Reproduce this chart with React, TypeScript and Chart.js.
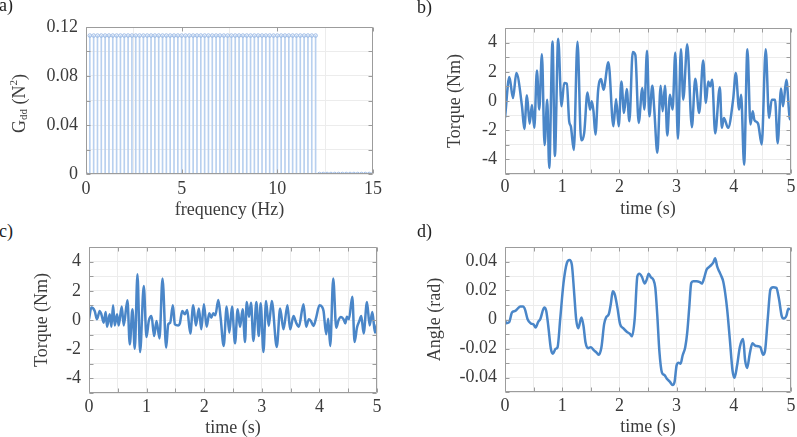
import React, { useEffect, useRef } from 'react';
import { Chart, registerables } from 'chart.js';

Chart.register(...registerables);

const FONT = '"Liberation Serif", "Times New Roman", serif';
const TEXT = '#3c3c3c';
const GRID = '#ececec';
const BOX = '#9c9c9c';
const LINE = '#4a86c8';
const STEM = '#b8d0ef';
const MARK = '#9dbbe6';

// ---------- a) power spectrum ----------
const freqHz = [
  0, 0.2, 0.4, 0.6, 0.8, 1, 1.2, 1.4, 1.6, 1.8,
  2, 2.2, 2.4, 2.6, 2.8, 3, 3.2, 3.4, 3.6, 3.8,
  4, 4.2, 4.4, 4.6, 4.8, 5, 5.2, 5.4, 5.6, 5.8,
  6, 6.2, 6.4, 6.6, 6.8, 7, 7.2, 7.4, 7.6, 7.8,
  8, 8.2, 8.4, 8.6, 8.8, 9, 9.2, 9.4, 9.6, 9.8,
  10, 10.2, 10.4, 10.6, 10.8, 11, 11.2, 11.4, 11.6, 11.8,
  12, 12.2, 12.4, 12.6, 12.8, 13, 13.2, 13.4, 13.6, 13.8,
  14, 14.2, 14.4, 14.6, 14.8, 15,
];
const gddValues = [
  0, 0.113, 0.113, 0.113, 0.113, 0.113, 0.113, 0.113, 0.113, 0.113,
  0.113, 0.113, 0.113, 0.113, 0.113, 0.113, 0.113, 0.113, 0.113, 0.113,
  0.113, 0.113, 0.113, 0.113, 0.113, 0.113, 0.113, 0.113, 0.113, 0.113,
  0.113, 0.113, 0.113, 0.113, 0.113, 0.113, 0.113, 0.113, 0.113, 0.113,
  0.113, 0.113, 0.113, 0.113, 0.113, 0.113, 0.113, 0.113, 0.113, 0.113,
  0.113, 0.113, 0.113, 0.113, 0.113, 0.113, 0.113, 0.113, 0.113, 0.113,
  0.113, 0, 0, 0, 0, 0, 0, 0, 0, 0,
  0, 0, 0, 0, 0, 0,
];

// ---------- b) input torque ----------
const bTime = [
  0, 0.076, 0.14, 0.198, 0.297, 0.337, 0.384, 0.43, 0.471, 0.512,
  0.558, 0.599, 0.645, 0.692, 0.738, 0.773, 0.831, 0.872, 0.93, 0.988,
  1.035, 1.081, 1.122, 1.151, 1.203, 1.267, 1.331, 1.384, 1.442, 1.488,
  1.517, 1.547, 1.581, 1.628, 1.68, 1.721, 1.808, 1.895, 1.942, 1.988,
  2.035, 2.081, 2.128, 2.174, 2.233, 2.279, 2.337, 2.401, 2.436, 2.483,
  2.523, 2.576, 2.61, 2.663, 2.721, 2.756, 2.797, 2.837, 2.884, 2.93,
  2.977, 3.023, 3.076, 3.116, 3.186, 3.267, 3.326, 3.395, 3.465, 3.512,
  3.552, 3.587, 3.622, 3.674, 3.756, 3.791, 3.826, 3.901, 3.988, 4.035,
  4.093, 4.128, 4.18, 4.238, 4.291, 4.331, 4.36, 4.424, 4.488, 4.558,
  4.616, 4.663, 4.721, 4.767, 4.826, 4.86, 4.919, 4.977, 5.0,
];
const bTorque = [
  -1.16, 1.64, 0.2, 1.91, -0.36, -1.91, 0.39, -1.55, -0.27, -1.84,
  2.09, -0.59, 3.2, -3.02, 0.09, -4.59, 4.07, -3.77, 4.27, -0.36,
  1.23, 1.18, -1.39, -1.73, -3.36, 4.05, -2.68, -2.2, 0.59, -0.59,
  -0.02, -0.7, -2.3, 0.73, 1.5, 0.77, 2.66, -1.73, 0.14, -1.73,
  1.34, -0.82, 0.82, -1.39, 3.36, 3.14, -1.5, 0.89, -0.59, 3.45,
  -1.05, 1.05, -0.59, -3.55, 1.05, -0.7, 1.05, -2.36, 0.43, -0.59,
  3.32, -2.59, 3.55, 0.09, 3.89, -1.8, 1.52, -0.82, 2.77, -0.14,
  1.34, 1.0, 1.45, -2.22, 0.95, -1.84, -1.16, -1.84, 0.09, 1.91,
  -0.59, 0.43, -4.36, 3.55, -1.61, -0.7, -1.3, -1.55, -2.98, 3.55,
  -1.16, 0.09, 0.09, -2.89, 0.86, -0.36, 1.45, -1.16, -1.3,
];

// ---------- c) output torque ----------
const cTime = [
  0, 0.041, 0.099, 0.139, 0.186, 0.215, 0.255, 0.29, 0.313, 0.36,
  0.389, 0.418, 0.447, 0.487, 0.516, 0.568, 0.603, 0.667, 0.708, 0.754,
  0.795, 0.841, 0.887, 0.951, 0.998, 1.038, 1.085, 1.131, 1.172, 1.224,
  1.276, 1.34, 1.375, 1.41, 1.456, 1.491, 1.549, 1.578, 1.618, 1.665,
  1.705, 1.758, 1.81, 1.856, 1.908, 1.949, 1.995, 2.042, 2.088, 2.123,
  2.158, 2.193, 2.245, 2.285, 2.338, 2.39, 2.436, 2.483, 2.535, 2.581,
  2.622, 2.668, 2.709, 2.738, 2.778, 2.813, 2.854, 2.906, 2.947, 2.981,
  3.028, 3.074, 3.121, 3.173, 3.26, 3.318, 3.376, 3.445, 3.492, 3.55,
  3.596, 3.643, 3.724, 3.77, 3.817, 3.852, 3.898, 3.944, 4.002, 4.043,
  4.072, 4.118, 4.153, 4.188, 4.24, 4.292, 4.333, 4.374, 4.42, 4.449,
  4.478, 4.513, 4.571, 4.611, 4.652, 4.693, 4.727, 4.768, 4.826, 4.872,
  4.919, 4.965, 5.0,
];
const cTorque = [
  0.05, 0.85, 0.62, 0.05, 0.62, 0.39, -0.18, 0.55, -0.46, 0.39,
  -0.46, 1.01, -0.37, 0.39, -0.37, 0.92, -0.37, 1.35, -1.67, 0.73,
  -1.97, 3.13, -2.2, 2.33, -1.17, -0.07, 0.27, -1.1, -0.07, -1.26,
  2.84, -1.9, -0.3, -0.18, 1.01, -0.3, -0.37, -0.23, 0.62, 0.39,
  0.69, -0.92, 1.01, -0.37, 0.78, -0.64, 1.08, -0.46, 0.46, 0.16,
  0.46, 0.32, 1.37, 0.16, -1.78, 0.92, -0.87, 0.92, -1.6, 0.73,
  -0.46, 0.73, -1.51, 1.24, 0.23, 1.19, -1.44, 1.24, -1.1, 1.14,
  -2.2, 1.3, -0.41, 1.3, -1.85, 0.78, -0.64, 1.01, -0.64, 0.27,
  -0.18, -0.46, 1.08, -0.46, 0.05, -0.07, -0.41, 0.16, 1.01, 0.92,
  0.62, -0.98, 0.09, -1.78, 2.84, -0.53, 0, 0.21, 0.05, -0.23,
  0.23, 0.05, 1.6, -1.51, -0.53, -0.07, 0.27, -0.92, 1.24, -0.37,
  0.55, -0.87, -0.3,
];

// ---------- d) angle ----------
const dTime = [
  0, 0.023, 0.07, 0.122, 0.18, 0.221, 0.267, 0.314, 0.349, 0.395,
  0.453, 0.5, 0.535, 0.581, 0.616, 0.686, 0.721, 0.756, 0.802, 0.837,
  0.884, 0.919, 0.965, 1.023, 1.081, 1.128, 1.169, 1.209, 1.244, 1.279,
  1.337, 1.372, 1.407, 1.453, 1.5, 1.547, 1.605, 1.64, 1.686, 1.733,
  1.767, 1.814, 1.849, 1.884, 1.919, 1.965, 2.012, 2.07, 2.128, 2.186,
  2.221, 2.267, 2.314, 2.349, 2.395, 2.442, 2.477, 2.512, 2.547, 2.593,
  2.628, 2.663, 2.698, 2.744, 2.791, 2.826, 2.884, 2.93, 2.965, 3.0,
  3.035, 3.07, 3.105, 3.151, 3.186, 3.221, 3.256, 3.291, 3.349, 3.407,
  3.442, 3.477, 3.523, 3.581, 3.64, 3.674, 3.709, 3.744, 3.779, 3.814,
  3.849, 3.884, 3.93, 3.977, 4.012, 4.058, 4.105, 4.163, 4.198, 4.233,
  4.279, 4.326, 4.372, 4.419, 4.465, 4.512, 4.547, 4.593, 4.64, 4.686,
  4.744, 4.791, 4.837, 4.872, 4.919, 4.953, 5.0,
];
const dAngle = [
  -0.0005, -0.0025, -0.002, 0.0048, 0.0059, 0.0075, 0.0089, 0.0089, 0.007, 0.0002,
  -0.0027, -0.0034, -0.0055, -0.0016, 0.0002, 0.0082, 0.0059, -0.0043, -0.0202, -0.0236,
  -0.0202, -0.0191, 0.0002, 0.0252, 0.0389, 0.0411, 0.0377, 0.0184, 0.0002, -0.0061,
  0.0014, -0.0043, -0.0157, -0.0198, -0.0191, -0.0209, -0.023, -0.0243, -0.0191, -0.0032,
  0.0014, 0.0036, 0.0105, 0.0195, 0.0173, 0.0082, -0.0032, -0.0061, -0.0084, -0.01,
  -0.0116, 0.0002, 0.0298, 0.0316, 0.0293, 0.0248, 0.0275, 0.0316, 0.0293, 0.0275,
  0.0218, 0.0025, -0.0214, -0.0366, -0.0384, -0.0407, -0.043, -0.0452, -0.043, -0.0316,
  -0.0298, -0.0305, -0.0248, -0.0191, -0.0089, 0.0082, 0.0252, 0.0264, 0.0264, 0.0257,
  0.0248, 0.028, 0.0343, 0.0366, 0.0393, 0.0423, 0.0366, 0.0332, 0.0302, 0.0264,
  0.0184, 0.007, -0.0134, -0.035, -0.0402, -0.0316, -0.0191, -0.0134, -0.0282, -0.0334,
  -0.0236, -0.0164, -0.018, -0.0184, -0.0191, -0.0243, -0.0214, 0.0002, 0.0207, 0.0223,
  0.0218, 0.0139, 0.0025, 0.0007, 0.0025, 0.0075, 0.007,
];

const panelLetters = ['a)', 'b)', 'c)', 'd)'];

// ---------- plugins ----------
const boxPlugin = {
  id: 'matlabBox',
  afterDraw(chart: any) {
    const { ctx, chartArea: a, scales } = chart;
    const L = Math.round(a.left) + 0.5;
    const R = Math.round(a.right) - 0.5;
    const T = Math.round(a.top) + 0.5;
    const B = Math.round(a.bottom) - 0.5;
    ctx.save();
    ctx.strokeStyle = BOX;
    ctx.lineWidth = 1;
    ctx.beginPath();
    ctx.rect(L, T, R - L, B - T);
    const len = 4;
    const xs = scales.x;
    const ys = scales.y;
    xs.ticks.forEach((t: any) => {
      const p = Math.round(xs.getPixelForValue(t.value)) + 0.5;
      ctx.moveTo(p, B);
      ctx.lineTo(p, B - len);
      ctx.moveTo(p, T);
      ctx.lineTo(p, T + len);
    });
    ys.ticks.forEach((t: any) => {
      const p = Math.round(ys.getPixelForValue(t.value)) + 0.5;
      ctx.moveTo(L, p);
      ctx.lineTo(L + len, p);
      ctx.moveTo(R, p);
      ctx.lineTo(R - len, p);
    });
    ctx.stroke();
    ctx.restore();
  },
};

const gddTitlePlugin = {
  id: 'gddTitle',
  afterDraw(chart: any) {
    const { ctx, chartArea } = chart;
    const cx = 14;
    const cy = (chartArea.top + chartArea.bottom) / 2 + 3;
    ctx.save();
    ctx.translate(cx, cy);
    ctx.rotate(-Math.PI / 2);
    ctx.fillStyle = TEXT;
    ctx.textBaseline = 'middle';
    ctx.textAlign = 'left';
    const big = `18px ${FONT}`;
    const small = `11px ${FONT}`;
    const parts = [
      { t: 'G', f: big, dy: 0 },
      { t: 'dd', f: small, dy: 4 },
      { t: ' (N', f: big, dy: 0 },
      { t: '2', f: small, dy: -6 },
      { t: ')', f: big, dy: 0 },
    ];
    let total = 0;
    parts.forEach((p) => {
      ctx.font = p.f;
      total += ctx.measureText(p.t).width;
    });
    let x = -total / 2;
    parts.forEach((p) => {
      ctx.font = p.f;
      ctx.fillText(p.t, x, p.dy);
      x += ctx.measureText(p.t).width;
    });
    ctx.restore();
  },
};

// ---------- option builder ----------
type AxisSpec = {
  xMin: number; xMax: number; xStep: number; xLabel: string; xPad: number;
  yMin: number; yMax: number; yStep: number; yTitle: string | null;
  yFmt: (v: number) => string;
  yW: number; xH: number;
};

const tickFont = { family: FONT, size: 18 };
const titleFont = { family: FONT, size: 18, lineHeight: 1 };
const PAD_TOP = 20;
const PAD_RIGHT = 16;

function buildOptions(s: AxisSpec): any {
  return {
    animation: false,
    responsive: true,
    maintainAspectRatio: false,
    events: [],
    layout: { padding: { top: PAD_TOP, right: PAD_RIGHT, left: 0, bottom: 0 } },
    plugins: { legend: { display: false }, tooltip: { enabled: false } },
    scales: {
      x: {
        type: 'linear',
        min: s.xMin,
        max: s.xMax,
        offset: false,
        afterFit: (sc: any) => { sc.height = s.xH; },
        grid: { color: GRID, drawTicks: false, lineWidth: 1 },
        border: { display: false },
        ticks: {
          stepSize: s.xStep,
          autoSkip: false,
          maxRotation: 0,
          padding: s.xPad,
          color: TEXT,
          font: tickFont,
          callback: (v: number) => (Math.abs(v - Math.round(v)) < 1e-9 ? String(Math.round(v)) : ''),
        },
        title: {
          display: true,
          text: s.xLabel,
          color: TEXT,
          font: titleFont,
          padding: 0,
        },
      },
      y: {
        type: 'linear',
        min: s.yMin,
        max: s.yMax,
        afterFit: (sc: any) => { sc.width = s.yW; },
        grid: { color: GRID, drawTicks: false, lineWidth: 1 },
        border: { display: false },
        ticks: {
          stepSize: s.yStep,
          autoSkip: false,
          padding: 8,
          color: TEXT,
          font: tickFont,
          callback: (v: number) => s.yFmt(v),
        },
        title: {
          display: !!s.yTitle,
          text: s.yTitle || '',
          color: TEXT,
          font: titleFont,
          padding: 0,
        },
      },
    },
  };
}

const fmtGdd = (v: number) => {
  const k = Math.round(v / 0.02);
  if (k % 2 !== 0) return '';
  return k === 0 ? '0' : (k * 0.02).toFixed(2);
};
const fmtTorque = (v: number) => {
  const k = Math.round(v);
  return k % 2 === 0 ? String(k) : '';
};
const fmtAngle = (v: number) => {
  const k = Math.round(v * 100);
  if (k % 2 !== 0 || Math.abs(k) >= 5) return '';
  return k === 0 ? '0' : (k / 100).toFixed(2);
};

function pairs(xs: number[], ys: number[]) {
  return xs.map((x, i) => ({ x, y: ys[i] }));
}

function lineDataset(xs: number[], ys: number[]) {
  return {
    type: 'line',
    data: pairs(xs, ys),
    borderColor: LINE,
    borderWidth: 2.5,
    pointRadius: 0,
    cubicInterpolationMode: 'monotone',
    borderJoinStyle: 'round',
    fill: false,
  };
}

function configA(): any {
  return {
    type: 'bar',
    data: {
      datasets: [
        {
          type: 'bar',
          data: pairs(freqHz, gddValues),
          backgroundColor: STEM,
          barThickness: 1,
          borderWidth: 0,
          order: 2,
        },
        {
          type: 'line',
          data: pairs(freqHz, gddValues),
          showLine: false,
          pointRadius: 1.8,
          pointBorderWidth: 1,
          pointBorderColor: MARK,
          pointBackgroundColor: 'rgba(255,255,255,0)',
          order: 1,
        },
      ],
    },
    options: buildOptions({
      xMin: 0, xMax: 15, xStep: 5, xLabel: 'frequency (Hz)', xPad: 4,
      yMin: 0, yMax: 0.12, yStep: 0.02, yTitle: null, yFmt: fmtGdd,
      yW: 80, xH: 45,
    }),
    plugins: [boxPlugin, gddTitlePlugin],
  };
}

function configB(): any {
  return {
    type: 'line',
    data: { datasets: [lineDataset(bTime, bTorque)] },
    options: buildOptions({
      xMin: 0, xMax: 5, xStep: 0.5, xLabel: 'time (s)', xPad: 2,
      yMin: -5, yMax: 5, yStep: 1, yTitle: 'Torque (Nm)', yFmt: fmtTorque,
      yW: 59, xH: 44,
    }),
    plugins: [boxPlugin],
  };
}

function configC(): any {
  return {
    type: 'line',
    data: { datasets: [lineDataset(cTime, cTorque)] },
    options: buildOptions({
      xMin: 0, xMax: 5, xStep: 0.5, xLabel: 'time (s)', xPad: 3,
      yMin: -5, yMax: 5, yStep: 1, yTitle: 'Torque (Nm)', yFmt: fmtTorque,
      yW: 56, xH: 44,
    }),
    plugins: [boxPlugin],
  };
}

function configD(): any {
  return {
    type: 'line',
    data: { datasets: [lineDataset(dTime, dAngle)] },
    options: buildOptions({
      xMin: 0, xMax: 5, xStep: 0.5, xLabel: 'time (s)', xPad: 3,
      yMin: -0.05, yMax: 0.05, yStep: 0.01, yTitle: 'Angle (rad)', yFmt: fmtAngle,
      yW: 79, xH: 44,
    }),
    plugins: [boxPlugin],
  };
}

function Panel(props: { left: number; top: number; width: number; height: number; build: () => any }) {
  const ref = useRef<HTMLCanvasElement>(null);
  useEffect(() => {
    const chart = new Chart(ref.current as HTMLCanvasElement, props.build());
    return () => chart.destroy();
  }, []);
  return (
    <div style={{ position: 'absolute', left: props.left, top: props.top, width: props.width, height: props.height }}>
      <canvas ref={ref} />
    </div>
  );
}

const letterStyle = (left: number, top: number): React.CSSProperties => ({
  position: 'absolute',
  left,
  top,
  fontFamily: FONT,
  fontSize: 18,
  color: '#222',
  lineHeight: 'normal',
});

// plot areas: a (86..373, 27..174), b (505..791, 28..174), c (89..377, 247..393), d (505..791, 247..392)
export default function App() {
  return (
    <div
      style={{
        position: 'fixed',
        left: 0,
        top: 0,
        width: 797,
        height: 437,
        background: '#fff',
        overflow: 'hidden',
      }}
    >
      <Panel left={6} top={27 - PAD_TOP} width={80 + 287 + PAD_RIGHT} height={PAD_TOP + 147 + 45} build={configA} />
      <Panel left={446} top={28 - PAD_TOP} width={59 + 286 + PAD_RIGHT} height={PAD_TOP + 146 + 44} build={configB} />
      <Panel left={33} top={247 - PAD_TOP} width={56 + 288 + PAD_RIGHT} height={PAD_TOP + 146 + 44} build={configC} />
      <Panel left={426} top={247 - PAD_TOP} width={79 + 286 + PAD_RIGHT} height={PAD_TOP + 145 + 44} build={configD} />
      <div style={letterStyle(-1, -5)}>{panelLetters[0]}</div>
      <div style={letterStyle(417, -3)}>{panelLetters[1]}</div>
      <div style={letterStyle(-1, 221)}>{panelLetters[2]}</div>
      <div style={letterStyle(417, 221)}>{panelLetters[3]}</div>
    </div>
  );
}
